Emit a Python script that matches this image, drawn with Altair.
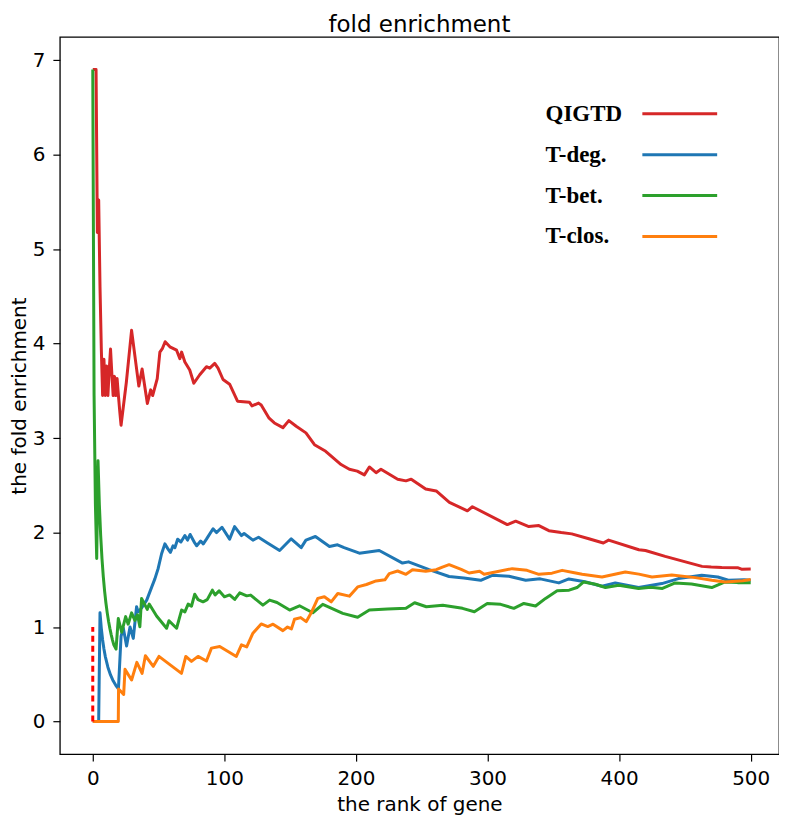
import altair as alt
import pandas as pd

series_names = ["QIGTD", "T-deg.", "T-bet.", "T-clos."]
series_colors = ["#d62728", "#1f77b4", "#2ca02c", "#ff7f0e"]

x_ticks = [0, 100, 200, 300, 400, 500]
y_ticks = [0, 1, 2, 3, 4, 5, 6, 7]

qigtd_rank = [0, 2.5, 3.5, 4.5, 5.5, 6.5, 7.5, 8.5, 9.5, 10.5, 11.5, 12.5, 13.5, 14.5, 15.5, 16.5, 17.5, 18.5, 19.5, 20.5,
              21.5, 25.5, 29.5, 35, 37.5, 41.5, 44, 45.5, 49, 51, 53, 55, 58.6, 63.7, 66.2, 67.5, 70, 73.7, 76.8, 81.3,
              86.4, 88.9, 92.7, 95.2, 99, 104, 110, 119, 121, 126, 128, 134, 138, 144.5, 149, 154.6, 162, 168.5, 177, 188.7,
              195, 201, 206.4, 210.2, 215.3, 219, 231.7, 238, 242, 253, 261, 271, 284.7, 288.5, 315, 321.4, 331.4, 339, 346.6, 356,
              364, 377, 388, 392, 415, 420, 435, 463, 470, 478, 490, 493, 500]
qigtd_fe = [6.9, 6.9, 5.175, 5.52, 4.6, 3.943, 3.45, 3.833, 3.45, 3.764, 3.45, 3.715, 3.943, 3.68, 3.45, 3.653, 3.45, 3.63, 3.45, 3.286,
            3.136, 3.588, 4.14, 3.55, 3.73, 3.366, 3.51, 3.45, 3.63, 3.91, 3.95, 4.02, 3.966, 3.93, 3.84, 3.91, 3.805, 3.72, 3.58, 3.67,
            3.755, 3.74, 3.79, 3.74, 3.62, 3.57, 3.39, 3.38, 3.34, 3.37, 3.35, 3.21, 3.16, 3.11, 3.185, 3.125, 3.055, 2.93, 2.86, 2.72,
            2.67, 2.65, 2.61, 2.694, 2.634, 2.67, 2.565, 2.547, 2.565, 2.46, 2.44, 2.32, 2.23, 2.273, 2.084, 2.12, 2.063, 2.074, 2.02, 2.0,
            1.986, 1.934, 1.89, 1.92, 1.818, 1.81, 1.748, 1.642, 1.635, 1.63, 1.628, 1.612, 1.614]

tdeg_rank = [0, 4.5, 5.5, 6.5, 7.5, 8.5, 9.5, 11.5, 13.5, 15.5, 17.5, 19.5, 21.5, 23.2, 25.7, 28.3, 30.8, 33.3, 34.5, 37,
             41, 44.7, 47.2, 49.7, 52.3, 54.8, 57, 59, 61, 62.4, 64.5, 67, 70, 72, 74, 77.5, 79, 82, 84, 86.4,
             91.4, 94, 98.2, 104, 107.8, 113, 115, 121.7, 126, 131.9, 142, 150.8, 158.4, 162, 169.2, 179.9, 186, 191, 202.6, 217.7,
             235.4, 240, 255.6, 270.8, 282, 294.8, 303.6, 316.3, 329, 340, 354.2, 361.8, 374, 387, 397.1, 414.8, 432.5, 445.1, 462.8, 475,
             483, 495, 500]
tdeg_fe = [0, 0, 1.15, 0.986, 0.863, 0.767, 0.69, 0.575, 0.493, 0.431, 0.383, 0.345, 0.9, 0.99, 0.8, 1.0, 0.88, 1.215, 1.16, 1.2,
           1.285, 1.42, 1.51, 1.62, 1.776, 1.88, 1.83, 1.79, 1.86, 1.84, 1.93, 1.9, 1.968, 1.92, 1.98, 1.89, 1.86, 1.91, 1.88, 1.93,
           2.04, 2.0, 2.056, 1.93, 2.063, 1.968, 1.99, 1.92, 1.95, 1.898, 1.81, 1.934, 1.84, 1.92, 1.958, 1.853, 1.87, 1.84, 1.782, 1.81,
           1.677, 1.69, 1.607, 1.535, 1.52, 1.495, 1.548, 1.537, 1.495, 1.51, 1.467, 1.509, 1.48, 1.432, 1.467, 1.418, 1.46, 1.513, 1.548, 1.53,
           1.495, 1.5, 1.495]

tbet_rank = [0, 1, 2, 3, 4, 5, 6, 7, 8, 9, 10, 11, 12, 13, 14, 15, 16, 17.7, 19.4, 22,
             25, 26.9, 29.5, 32, 34, 35.8, 37.1, 41.4, 42.9, 48.5, 56.1, 57.9, 63.7, 67.5, 70, 72.5, 75, 77.5, 80, 83.8,
             87, 90.9, 93, 96, 100, 104, 107.9, 111.7, 117, 120, 129.3, 134.4, 140, 149.6, 157.1, 167.2, 174.8, 190, 201.3, 210.2,
             224, 238, 244.6, 253.5, 266, 281, 290, 299.8, 310, 320, 327.6, 336.5, 344.1, 352.9, 362, 368, 373.1, 382, 389.6, 399.7,
             414.8, 424, 432.9, 442.6, 455, 470.4, 480.5, 490, 500]
tbet_fe = [6.9, 3.45, 2.3, 1.725, 2.76, 2.3, 1.971, 1.725, 1.533, 1.38, 1.2545, 1.15, 1.0615, 0.986, 0.92, 0.8625, 0.812, 0.767, 1.09, 0.945,
           1.11, 1.03, 1.15, 1.07, 1.13, 1.004, 1.302, 1.187, 1.243, 1.117, 0.987, 1.067, 0.987, 1.18, 1.16, 1.243, 1.22, 1.348, 1.29, 1.267,
           1.29, 1.39, 1.34, 1.383, 1.32, 1.34, 1.292, 1.362, 1.33, 1.338, 1.232, 1.285, 1.26, 1.18, 1.225, 1.151, 1.24, 1.145, 1.103, 1.18,
           1.19, 1.198, 1.257, 1.215, 1.23, 1.198, 1.162, 1.25, 1.24, 1.198, 1.25, 1.222, 1.303, 1.383, 1.39, 1.418, 1.477, 1.453, 1.418, 1.443,
           1.408, 1.42, 1.408, 1.467, 1.455, 1.418, 1.477, 1.47, 1.47]

tclos_rank = [0, 19.4, 19.6, 23.5, 24.5, 29.5, 33.5, 37.5, 40, 46, 50.3, 67.4, 70.7, 75, 80, 86.4, 90.2, 96.5, 109.1, 113,
              117, 121.7, 128, 133, 137, 144.5, 148, 151, 153.3, 158, 162.2, 166, 171, 176, 181.2, 186.2, 195, 201.3, 208, 215.3,
              222, 225.3, 231.7, 238, 243, 253, 261, 265.7, 270.8, 280, 286, 294, 297.4, 305, 318.8, 330, 339, 349, 356.7, 366,
              371.9, 387, 404.7, 415, 425, 440, 457.9, 470.4, 480.5, 494, 500]
tclos_fe = [0, 0, 0.345, 0.2875, 0.552, 0.44, 0.626, 0.51, 0.696, 0.584, 0.689, 0.51, 0.689, 0.636, 0.689, 0.64, 0.777, 0.794, 0.689, 0.812,
            0.79, 0.935, 1.033, 1.005, 1.03, 0.962, 1.0, 0.98, 1.082, 1.1, 1.057, 1.15, 1.303, 1.32, 1.267, 1.355, 1.327, 1.425, 1.45, 1.488,
            1.5, 1.566, 1.593, 1.558, 1.607, 1.59, 1.607, 1.635, 1.66, 1.61, 1.572, 1.59, 1.558, 1.58, 1.618, 1.6, 1.558, 1.57, 1.6, 1.575,
            1.558, 1.53, 1.583, 1.56, 1.53, 1.55, 1.523, 1.495, 1.477, 1.49, 1.503]

# red dashed reference segment at rank 0
dash_rank = [0]
dash_lo = [0]
dash_hi = [1]

rows = []
for name, ranks, vals in zip(series_names,
                             [qigtd_rank, tdeg_rank, tbet_rank, tclos_rank],
                             [qigtd_fe, tdeg_fe, tbet_fe, tclos_fe]):
    for i, (r, v) in enumerate(zip(ranks, vals)):
        rows.append({"series": name, "rank": r, "fe": v, "idx": i})
df = pd.DataFrame(rows)

color_scale = alt.Scale(domain=series_names, range=series_colors)
x_scale = alt.Scale(domain=[-25, 521.5], nice=False, zero=False)
y_scale = alt.Scale(domain=[-0.345, 7.245], nice=False, zero=False)

lines = alt.Chart(df).mark_line(strokeWidth=3, strokeJoin="round").encode(
    x=alt.X("rank:Q", scale=x_scale,
            axis=alt.Axis(values=x_ticks, format="d", title="the rank of gene",
                          labelPadding=7, titlePadding=7)),
    y=alt.Y("fe:Q", scale=y_scale,
            axis=alt.Axis(values=y_ticks, format="d", title="the fold enrichment",
                          labelPadding=8, titlePadding=3)),
    color=alt.Color("series:N", scale=color_scale, legend=None),
    order=alt.Order("idx:Q"),
)

dash = alt.Chart(pd.DataFrame({"rank": dash_rank, "lo": dash_lo, "hi": dash_hi})).mark_rule(
    color="#ff0000", strokeWidth=3, strokeDash=[6, 4]
).encode(x="rank:Q", y="lo:Q", y2="hi:Q")

main = alt.layer(lines, dash)

leg_df = pd.DataFrame({"series": series_names})
leg_y = alt.Y("series:N", sort=series_names,
              scale=alt.Scale(type="point", range=[77, 200], padding=0), axis=None)

leg_rule = alt.Chart(leg_df).mark_rule(strokeWidth=3).encode(
    x=alt.value(584), x2=alt.value(659), y=leg_y,
    color=alt.Color("series:N", scale=color_scale, legend=None),
)
leg_text = alt.Chart(leg_df).mark_text(
    align="left", baseline="middle", font="Liberation Serif", fontWeight="bold",
    fontSize=23, color="black"
).encode(x=alt.value(487), y=leg_y, text="series:N")

legend = alt.layer(leg_rule, leg_text)

chart = alt.layer(main, legend).resolve_scale(y="independent").properties(
    width=721, height=719,
    title=alt.TitleParams("fold enrichment", font="DejaVu Sans", fontSize=23,
                          fontWeight="normal", anchor="middle", offset=0, color="black"),
    autosize=alt.AutoSizeParams(type="none"),
    padding={"left": 52, "top": 28, "right": 0, "bottom": 66},
).configure_view(
    stroke="black", strokeWidth=1.3
).configure_axis(
    labelFont="DejaVu Sans", labelFontSize=20, labelColor="black",
    titleFont="DejaVu Sans", titleFontSize=20, titleFontWeight="normal", titleColor="black",
    tickColor="black", tickSize=7, tickWidth=1.2,
    grid=False, domain=False,
)

chart.save("out.html", embed_options={"renderer": "svg", "actions": False})
